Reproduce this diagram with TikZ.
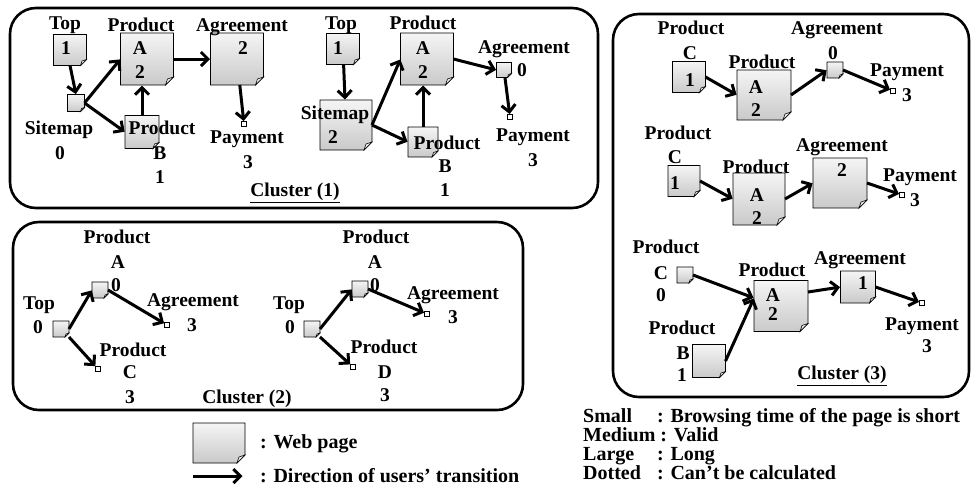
\documentclass[tikz,border=0pt]{standalone}
\usepackage{fontspec}
\setmainfont{Liberation Serif}
\usetikzlibrary{arrows.meta,calc}
\tikzset{
  pgbase/.style={inner sep=0pt, outer sep=0pt},
  pgL/.style={pgbase, minimum width=53pt, minimum height=52pt},
  pgM/.style={pgbase, minimum width=33pt, minimum height=31pt},
  pgS/.style={pgbase, minimum width=16pt, minimum height=16pt},
  pgT/.style={pgbase, minimum width=5pt, minimum height=5pt, draw=black, fill=white, line width=0.9pt},
  lbl/.style={inner sep=0pt, anchor=base, yshift=-6.5pt, font=\fontsize{19.5}{21}\selectfont\bfseries},
  leg/.style={inner sep=0pt, anchor=base west, font=\fontsize{20}{22}\selectfont\bfseries},
  arr/.style={line width=3pt, -{Straight Barb[length=7pt,width=14pt,line width=3pt]}, shorten >=0.5pt},
  cluster/.style={draw=black, line width=2.6pt, rounded corners=26pt}
}
\newcommand\webpage[2]{%
  \shade[top color=gray!8, bottom color=gray!42, draw=black, line width=0.9pt]
    (#1.north west) -- (#1.north east) -- ([yshift=#2]#1.south east)
    -- ([xshift=-#2]#1.south east) -- (#1.south west) -- cycle;
  \filldraw[fill=gray!15, draw=black, line width=0.6pt]
    ([yshift=#2]#1.south east) -- ([xshift=-#2]#1.south east)
    -- ([xshift=-0.75*#2,yshift=0.75*#2]#1.south east) -- cycle;
}
\begin{document}
\begin{tikzpicture}[x=1pt,y=-1pt]
\useasboundingbox (0,0) rectangle (973,499);

% ---------------- cluster frames
\draw[cluster] (10,8) rectangle (598,208);
\draw[cluster] (13,222) rectangle (523,410);
\draw[cluster] (613,14) rectangle (969,397);

% ================= Cluster (1), left graph
\node[pgM] (t1) at (70,50) {};   \webpage{t1}{6pt}
\node[pgS, minimum width=17pt, minimum height=17pt] (s1) at (76,103) {}; \webpage{s1}{4pt}
\node[pgL] (pa1) at (147,59) {}; \webpage{pa1}{8pt}
\node[pgL] (ag1) at (237,59) {}; \webpage{ag1}{8pt}
\node[pgM, minimum width=34pt, minimum height=33pt] (pb1) at (142,132) {}; \webpage{pb1}{6pt}
\node[pgT] (py1) at (244,124) {};

\node[lbl] (l1a) at (65,23) {Top};
\node[lbl] (l1b) at (66,48) {1};
\node[lbl] (l1c) at (59,128) {Sitemap};
\node[lbl] (l1d) at (60,153) {0};
\node[lbl] (l1e) at (141,25) {Product};
\node[lbl] (l1f) at (140,48) {A};
\node[lbl] (l1g) at (140,72) {2};
\node[lbl] (l1h) at (242,25) {Agreement};
\node[lbl] (l1i) at (243,48) {2};
\node[lbl] (l1j) at (162,128) {Product};
\node[lbl] (l1k) at (160,153) {B};
\node[lbl] (l1l) at (160,177) {1};
\node[lbl] (l1m) at (247,137) {Payment};
\node[lbl] (l1n) at (248,162) {3};

\draw[arr] (t1.south) -- (s1.north);
\draw[arr] (s1.east) -- (pa1.west);
\draw[arr] (s1.east) -- (pb1.west);
\draw[arr] (pb1.north) -- (pb1.north |- pa1.south);
\draw[arr] (pa1) -- (ag1);
\draw[arr] (ag1) -- (py1);

% ================= Cluster (1), right graph
\node[pgM] (t2) at (343,49) {};  \webpage{t2}{6pt}
\node[pgL, minimum width=52pt, minimum height=50pt] (s2) at (346,125) {}; \webpage{s2}{8pt}
\node[pgL] (pa2) at (427,59) {}; \webpage{pa2}{8pt}
\node[pgS, minimum width=15pt, minimum height=15pt] (ag2) at (504,70) {}; \webpage{ag2}{4pt}
\node[pgM, minimum width=30pt, minimum height=30pt] (pb2) at (423,142) {}; \webpage{pb2}{6pt}
\node[pgT] (py2) at (510,117) {};

\node[lbl] (l2a) at (341,23) {Top};
\node[lbl] (l2b) at (338,48) {1};
\node[lbl] (l2c) at (335,113) {Sitemap};
\node[lbl] (l2d) at (333,137) {2};
\node[lbl] (l2e) at (423,23) {Product};
\node[lbl] (l2f) at (423,48) {A};
\node[lbl] (l2g) at (423,72) {2};
\node[lbl] (l2h) at (524,47) {Agreement};
\node[lbl] (l2i) at (522,70) {0};
\node[lbl] (l2j) at (447,143) {Product};
\node[lbl] (l2k) at (445,166) {B};
\node[lbl] (l2l) at (445,190) {1};
\node[lbl] (l2m) at (533,135) {Payment};
\node[lbl] (l2n) at (533,160) {3};

\node[lbl] (c1) at (295,190) {\underline{Cluster (1)}};

\draw[arr] (t2) -- (s2);
\draw[arr] (s2.east) -- (pa2.west);
\draw[arr] (s2.east) -- (pb2.west);
\draw[arr] (pb2) -- (pb2 |- pa2.south);
\draw[arr] (pa2.east) -- (ag2.west);
\draw[arr] (ag2) -- (py2);

% ================= Cluster (2), left graph
\node[pgS] (c2t) at (61,329) {}; \webpage{c2t}{4pt}
\node[pgS] (c2a) at (100,290) {}; \webpage{c2a}{4pt}
\node[pgT] (c2g) at (167,325) {};
\node[pgT] (c2c) at (98,369) {};

\node[lbl] (l3a) at (39,303) {Top};
\node[lbl] (l3b) at (38,327) {0};
\node[lbl] (l3c) at (117,237) {Product};
\node[lbl] (l3d) at (118,262) {A};
\node[lbl] (l3e) at (116,285) {0};
\node[lbl] (l3f) at (193,300) {Agreement};
\node[lbl] (l3g) at (192,325) {3};
\node[lbl] (l3h) at (133,350) {Product};
\node[lbl] (l3i) at (130,372) {C};
\node[lbl] (l3j) at (130,397) {3};

\draw[arr] (c2t.east) -- (c2a.west);
\draw[arr] (c2a.east) -- (c2g);
\draw[arr] (c2t.south east) -- (c2c);

% ================= Cluster (2), right graph
\node[pgS] (d2t) at (312,329) {}; \webpage{d2t}{4pt}
\node[pgS] (d2a) at (360,289) {}; \webpage{d2a}{4pt}
\node[pgT] (d2g) at (427,314) {};
\node[pgT] (d2d) at (353,367) {};

\node[lbl] (l4a) at (289,303) {Top};
\node[lbl] (l4b) at (290,327) {0};
\node[lbl] (l4c) at (376,237) {Product};
\node[lbl] (l4d) at (375,262) {A};
\node[lbl] (l4e) at (375,285) {0};
\node[lbl] (l4f) at (453,293) {Agreement};
\node[lbl] (l4g) at (453,317) {3};
\node[lbl] (l4h) at (384,347) {Product};
\node[lbl] (l4i) at (385,372) {D};
\node[lbl] (l4j) at (385,395) {3};

\node[lbl] (c2) at (247,397) {\underline{Cluster (2)}};

\draw[arr] (d2t.east) -- (d2a.west);
\draw[arr] (d2a.east) -- (d2g);
\draw[arr] (d2t.south east) -- (d2d);

% ================= Cluster (3), row 1
\node[pgM] (r1c) at (689,77) {}; \webpage{r1c}{6pt}
\node[pgL, minimum width=54pt, minimum height=50pt] (r1a) at (764,95) {}; \webpage{r1a}{8pt}
\node[pgS] (r1g) at (835,70) {}; \webpage{r1g}{4pt}
\node[pgT] (r1p) at (893,91) {};

\node[lbl] (l5a) at (691,28) {Product};
\node[lbl] (l5b) at (690,53) {C};
\node[lbl] (l5c) at (690,80) {1};
\node[lbl] (l5d) at (762,62) {Product};
\node[lbl] (l5e) at (756,87) {A};
\node[lbl] (l5f) at (756,110) {2};
\node[lbl] (l5g) at (837,28) {Agreement};
\node[lbl] (l5h) at (833,53) {0};
\node[lbl] (l5i) at (907,70) {Payment};
\node[lbl] (l5j) at (907,95) {3};

\draw[arr] (r1c.east) -- (r1a.west);
\draw[arr] (r1a.east) -- (r1g.west);
\draw[arr] (r1g.east) -- (r1p);

% ================= Cluster (3), row 2
\node[pgM, minimum width=32pt] (r2c) at (684,181) {}; \webpage{r2c}{6pt}
\node[pgL, minimum width=52pt] (r2a) at (759,199) {}; \webpage{r2a}{8pt}
\node[pgL, minimum width=54pt, minimum height=50pt] (r2g) at (840,183) {}; \webpage{r2g}{8pt}
\node[pgT] (r2p) at (902,195) {};

\node[lbl] (l6a) at (678,133) {Product};
\node[lbl] (l6b) at (675,157) {C};
\node[lbl] (l6c) at (675,183) {1};
\node[lbl] (l6d) at (756,167) {Product};
\node[lbl] (l6e) at (757,195) {A};
\node[lbl] (l6f) at (757,218) {2};
\node[lbl] (l6g) at (842,145) {Agreement};
\node[lbl] (l6h) at (842,170) {2};
\node[lbl] (l6i) at (920,175) {Payment};
\node[lbl] (l6j) at (915,200) {3};

\draw[arr] (r2c.east) -- (r2a.west);
\draw[arr] (r2a.east) -- (r2g.west);
\draw[arr] (r2g.east) -- (r2p);

% ================= Cluster (3), row 3
\node[pgS] (r3c) at (685,275) {}; \webpage{r3c}{4pt}
\node[pgL, minimum width=54pt, minimum height=51pt] (r3a) at (781,306) {}; \webpage{r3a}{8pt}
\node[pgM, minimum width=35pt, minimum height=32pt] (r3g) at (858,287) {}; \webpage{r3g}{6pt}
\node[pgT] (r3p) at (922,303) {};
\node[pgM, minimum width=33pt, minimum height=33pt] (r3b) at (709,361) {}; \webpage{r3b}{6pt}

\node[lbl] (l7a) at (666,247) {Product};
\node[lbl] (l7b) at (661,273) {C};
\node[lbl] (l7c) at (661,295) {0};
\node[lbl] (l7d) at (772,270) {Product};
\node[lbl] (l7e) at (773,295) {A};
\node[lbl] (l7f) at (773,314) {2};
\node[lbl] (l7g) at (860,258) {Agreement};
\node[lbl] (l7h) at (863,283) {1};
\node[lbl] (l7i) at (922,324) {Payment};
\node[lbl] (l7j) at (927,346) {3};
\node[lbl] (l7k) at (682,328) {Product};
\node[lbl] (l7l) at (683,353) {B};
\node[lbl] (l7m) at (682,375) {1};

\node[lbl] (c3) at (842,373) {\underline{Cluster (3)}};

\draw[arr] (r3c.east) -- ([yshift=8pt]r3a.west);
\draw[arr] (r3b.east) -- ([yshift=8pt]r3a.west);
\draw[arr] ([yshift=14pt]r3a.east) -- (r3g.west);
\draw[arr] (r3g.east) -- (r3p);

% ================= Legend
\node[pgL, minimum width=52pt, minimum height=40pt] (lgp) at (219,443) {}; \webpage{lgp}{8pt}
\node[leg] (lgt1) at (260,448) {: Web page};
\coordinate (lga) at (193,476);
\coordinate (lgb) at (243,476);
\draw[arr] (lga) -- (lgb);
\node[leg] (lgt2) at (260,482) {: Direction of users’ transition};

\node[leg] (k1) at (583,422) {Small};
\node[leg] (k1b) at (657,422) {: Browsing time of the page is short};
\node[leg] (k2) at (583,441) {Medium : Valid};
\node[leg] (k3) at (583,460) {Large};
\node[leg] (k3b) at (657,460) {: Long};
\node[leg] (k4) at (583,479) {Dotted};
\node[leg] (k4b) at (657,479) {: Can’t be calculated};
\end{tikzpicture}
\end{document}
